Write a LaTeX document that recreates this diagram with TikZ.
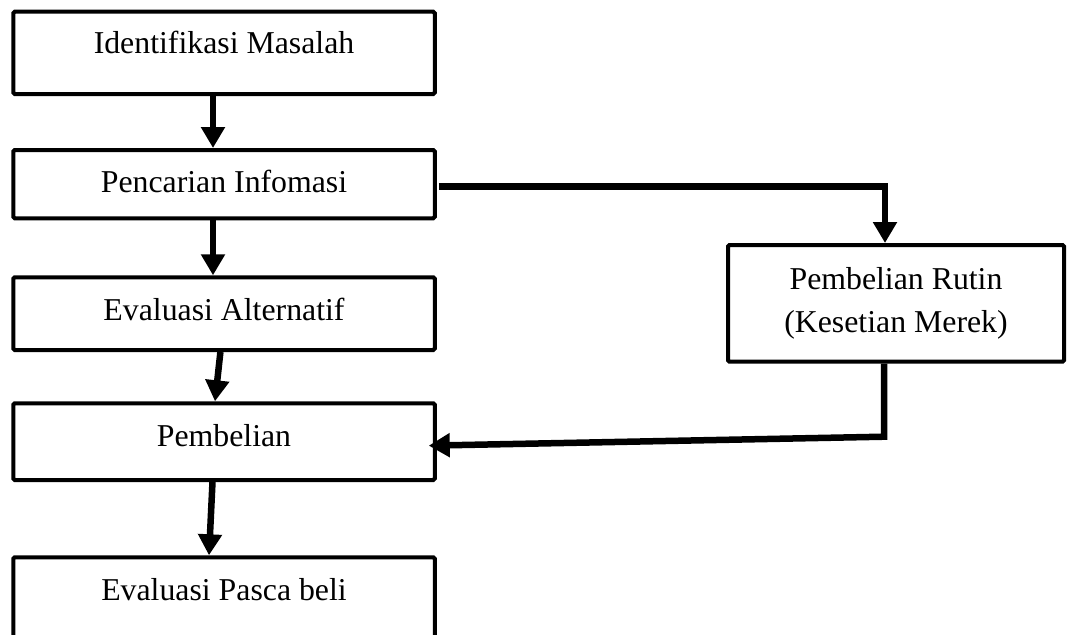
\documentclass[tikz,border=0pt]{standalone}
\usepackage{fontspec}
\setmainfont{Liberation Serif}
\usetikzlibrary{arrows.meta,calc}
\begin{document}
\begin{tikzpicture}[x=1pt,y=-1pt,
  box/.style={draw=black, line width=4pt, rounded corners=1.5pt, inner sep=0pt,
    font=\fontsize{31.8}{42.7}\selectfont, align=center},
  stepbox/.style={box, minimum width=421.5pt},
  arr/.style={draw=black, line width=6.5pt, line join=miter,
    -{Triangle[width=23pt,length=21pt]}}]
\useasboundingbox (0,0) rectangle (1070,634);

\node[stepbox, text height=42.3pt, text depth=40pt] (b1) at (224,52.85) {Identifikasi Masalah};
\node[stepbox, text height=42.3pt, text depth=26pt] (b2) at (224,184.15) {Pencarian Infomasi};
\node[stepbox, text height=43.4pt, text depth=29.3pt] (b3) at (224,313.65) {Evaluasi Alternatif};
\node[stepbox, text height=42.7pt, text depth=34pt] (b4) at (224,441.65) {Pembelian};
\node[stepbox, text height=43.4pt, text depth=59.3pt] (b5) at (224,608.65) {Evaluasi Pasca beli};
\node[box, minimum width=336pt, minimum height=116.7pt] (b6) at (896,303.35)
  {Pembelian Rutin\\(Kesetian Merek)};

\draw[arr] ([xshift=-11pt]b1.south) -- ([xshift=-11pt]b2.north);
\draw[arr] ([xshift=-11pt]b2.south) -- ([xshift=-11pt]b3.north);
\draw[arr] ([xshift=-3.6pt]b3.south) -- ([xshift=-9pt]b4.north);
\draw[arr] ([xshift=-11.5pt]b4.south) -- ([xshift=-15pt]b5.north);
\draw[arr] ([shift={(2,2.5)}]b2.east) -| ([xshift=-11pt]b6.north);
\coordinate (c6) at ([shift={(-12,73)}]b6.south);
\draw[arr] ([xshift=-12pt]b6.south) -- (c6) -- ([shift={(-8,4)}]b4.east);
\end{tikzpicture}
\end{document}
